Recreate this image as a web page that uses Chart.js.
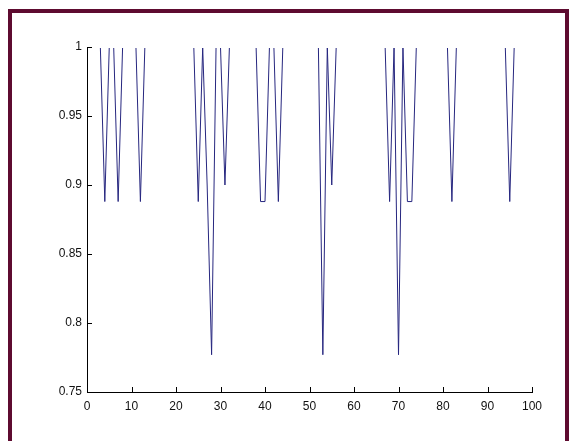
<!DOCTYPE html>
<html>
<head>
<meta charset="utf-8">
<script src="https://cdn.jsdelivr.net/npm/chart.js@4.4.1/dist/chart.umd.min.js"></script>
<style>
  html, body { margin: 0; padding: 0; background: #fff; }
  .wrap { position: relative; width: 575px; height: 441px; overflow: hidden; }
  .frame { position: absolute; left: 8px; top: 9px; width: 553px; height: 470px; border: 4px solid #5e0b30; pointer-events: none; }
</style>
</head>
<body>
<div class="wrap">
  <canvas id="c" width="575" height="441"></canvas>
  <div class="frame"></div>
</div>
<script>
// ── Data ──────────────────────────────────────────────────────────────────
const sampleCount = 100
const baseLevel = 1
const dipIndex = [4, 7, 12, 25, 27, 28, 31, 39, 40, 43, 53, 55, 68, 70, 72, 73, 82, 95]
const dipLevel = [0.888, 0.888, 0.888, 0.888, 0.9, 0.777, 0.9, 0.888, 0.888, 0.888, 0.777, 0.9, 0.888, 0.777, 0.888, 0.888, 0.888, 0.888]
const xTicks = [0, 10, 20, 30, 40, 50, 60, 70, 80, 90, 100]
const yTicks = [0.75, 0.8, 0.85, 0.9, 0.95, 1]

const points = []
for (let i = 1; i <= sampleCount; i++) {
  const k = dipIndex.indexOf(i)
  points.push({ x: i, y: k >= 0 ? dipLevel[k] : baseLevel })
}

// ── Inward tick marks ───────────────────────────────────────────────────────
const inwardTicks = {
  id: 'inwardTicks',
  afterDraw(chart) {
    const { ctx, chartArea: a, scales: { x, y } } = chart
    ctx.save()
    ctx.strokeStyle = '#000'
    ctx.lineWidth = 1
    ctx.beginPath()
    x.ticks.forEach(t => {
      const px = Math.round(x.getPixelForValue(t.value)) + 0.5
      ctx.moveTo(px, a.bottom)
      ctx.lineTo(px, a.bottom - 5)
    })
    y.ticks.forEach(t => {
      const py = Math.round(y.getPixelForValue(t.value)) + 0.5
      ctx.moveTo(a.left, py)
      ctx.lineTo(a.left + 5, py)
    })
    ctx.stroke()
    ctx.restore()
  }
}

const tickFont = { family: "'Liberation Sans', Arial, sans-serif", size: 12 }

new Chart(document.getElementById('c'), {
  type: 'line',
  data: {
    datasets: [{
      data: points,
      borderColor: '#26267f',
      borderWidth: 1,
      pointRadius: 0,
      tension: 0,
      fill: false,
      clip: { left: 0, top: -1, right: 0, bottom: 0 }
    }]
  },
  options: {
    responsive: false,
    devicePixelRatio: 1,
    animation: false,
    events: [],
    layout: { padding: { left: 0, top: 47, right: 43, bottom: 0 } },
    plugins: { legend: { display: false }, tooltip: { enabled: false } },
    scales: {
      x: {
        type: 'linear',
        min: 0,
        max: 100,
        afterBuildTicks: s => { s.ticks = xTicks.map(v => ({ value: v })) },
        afterFit: s => { s.height = 49 },
        grid: { display: false, drawTicks: false },
        border: { display: true, color: '#000', width: 1 },
        ticks: { color: '#111', font: tickFont, padding: 7, maxRotation: 0, callback: v => String(v) }
      },
      y: {
        type: 'linear',
        min: 0.75,
        max: 1,
        afterBuildTicks: s => { s.ticks = yTicks.map(v => ({ value: v })) },
        afterFit: s => { s.width = 87 },
        grid: { display: false, drawTicks: false },
        border: { display: true, color: '#000', width: 1 },
        ticks: { color: '#111', font: tickFont, padding: 5, callback: v => String(v) }
      }
    }
  },
  plugins: [inwardTicks]
})
</script>
</body>
</html>
